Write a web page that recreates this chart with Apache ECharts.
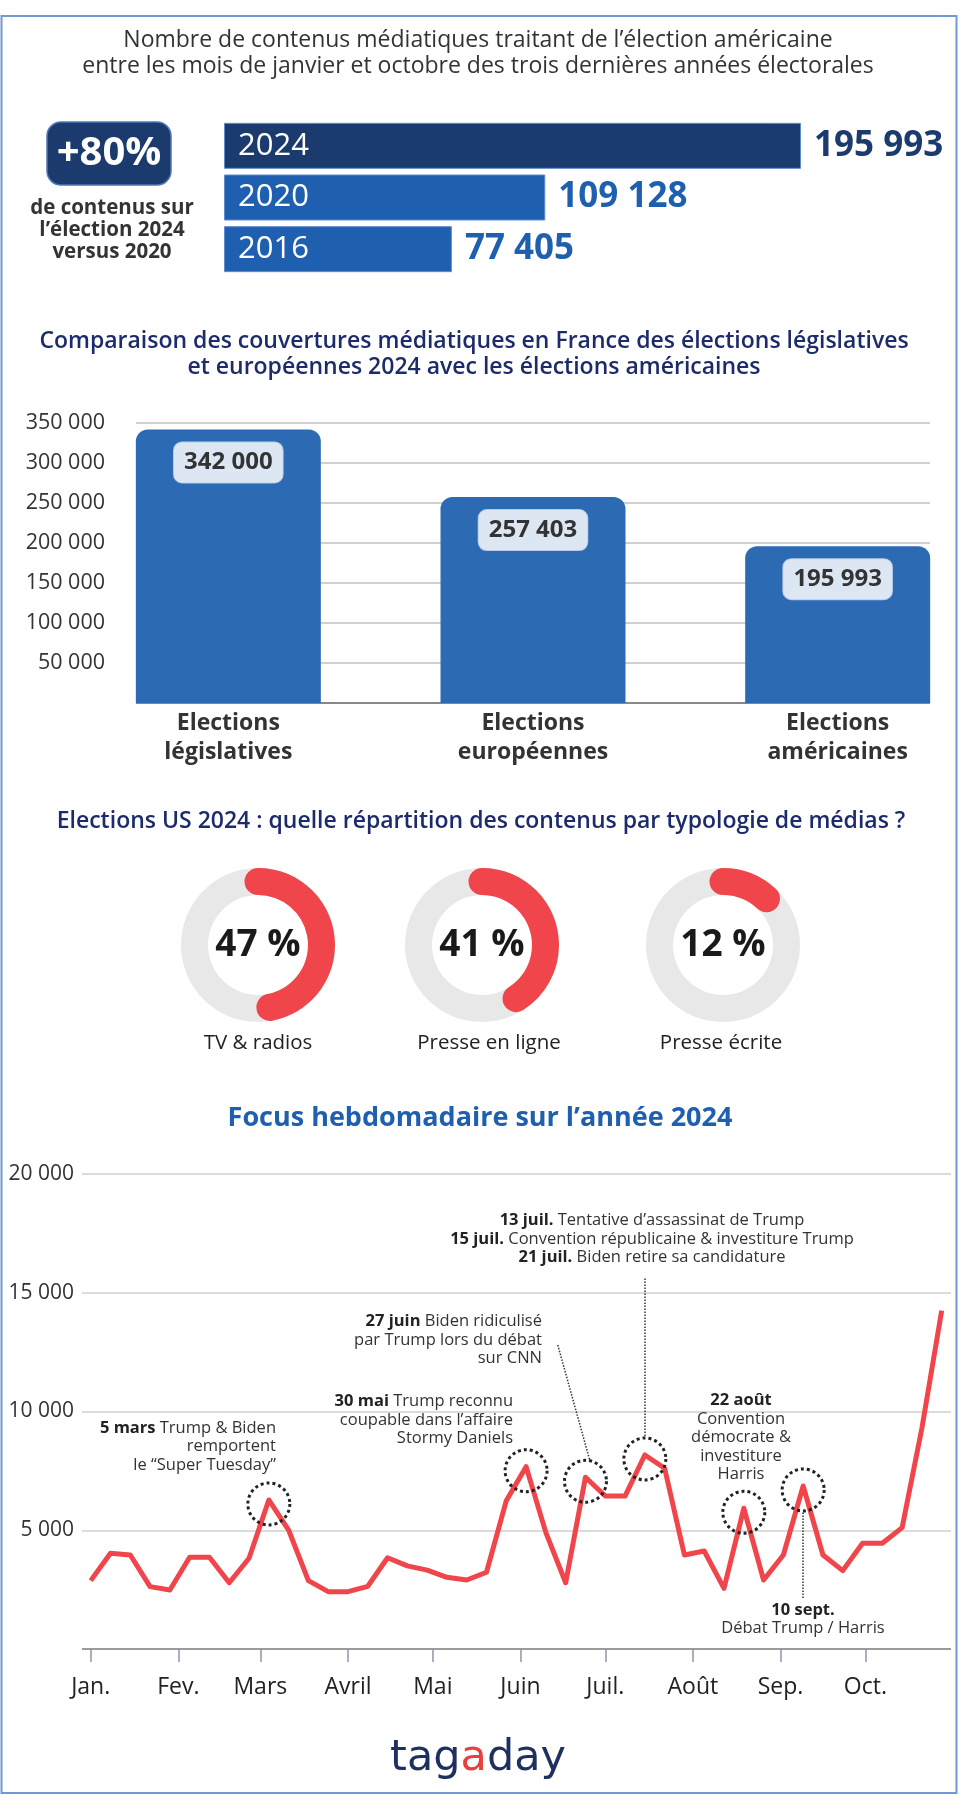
<!DOCTYPE html>
<html>
<head>
<meta charset="utf-8">
<script src="https://cdn.jsdelivr.net/npm/echarts@6/dist/echarts.min.js"></script>
<style>
html,body{margin:0;padding:0;background:#fff;}
#chart{width:960px;height:1810px;}
</style>
</head>
<body>
<div id="chart"></div>
<script>
// ---------- DATA ----------
const yearCats = ['2024', '2020', '2016'];
const yearTotals = [195993, 109128, 77405];

const electionCats = ['Elections\nlégislatives', 'Elections\neuropéennes', 'Elections\naméricaines'];
const electionTotals = [342000, 257403, 195993];

const mediaTypes = ['TV & radios', 'Presse en ligne', 'Presse écrite'];
const mediaShares = [47, 41, 12];

const monthLabels = ['Jan.', 'Fev.', 'Mars', 'Avril', 'Mai', 'Juin', 'Juil.', 'Août', 'Sep.', 'Oct.'];
const weeklyCounts = [
  2880, 4030, 3960, 2625, 2485, 3860, 3860, 2790, 3820, 6275,
  5010, 2880, 2415, 2415, 2640, 3840, 3500, 3320, 3020, 2905,
  3230, 6245, 7675, 4900, 2790, 7230, 6440, 6440, 8170, 7610,
  3960, 4125, 2555, 5925, 2905, 3960, 6865, 3960, 3300, 4450,
  4450, 5110, 9300, 14245
];
const highlightWeeks = [9, 22, 25, 28, 33, 36];

// ---------- HELPERS ----------
const FONT = '"Open Sans", "Noto Sans", sans-serif';
const fmt = v => String(v).replace(/\B(?=(\d{3})+(?!\d))/g, ' ');
const DAY = 86400000;
const monthStartWeeks = monthLabels.map((m, i) => (Date.UTC(2024, i, 1) - Date.UTC(2024, 0, 1)) / DAY / 7);
const weekSeries = weeklyCounts.map((v, i) => [i, v]);

const navy = '#1b3a6e', blue = '#1f5fb0', red = '#f0454b', titleNavy = '#1c2b6b';
const yearBarColors = [navy, blue, blue];
const yearLabelColors = [navy, blue, blue];

function txt(text, x, y, opt) {
  opt = opt || {};
  return {
    type: 'text', z: 100, silent: true,
    style: Object.assign({
      text: text, x: x, y: y,
      fontFamily: FONT, fontSize: 16, fill: '#333',
      textAlign: 'center', textVerticalAlign: 'middle',
      align: 'center', verticalAlign: 'middle'
    }, opt)
  };
}
const richB = { b: { fontWeight: 'bold', fontSize: 16.5, lineHeight: 18.5, fontFamily: FONT, fill: '#222', color: '#222' } };
function ann(text, x, y, align) {
  return txt(text, x, y, {
    textAlign: align, align: align, textVerticalAlign: 'top', verticalAlign: 'top',
    fontSize: 16.5, lineHeight: 18.5, fill: '#333', rich: richB
  });
}

const gauges = mediaShares.map((v, i) => ({
  type: 'gauge',
  center: [[258, 482, 723][i], 945],
  radius: 77,
  startAngle: 90, endAngle: -270, min: 0, max: 100,
  pointer: { show: false }, anchor: { show: false }, title: { show: false },
  progress: { show: true, roundCap: true, width: 27, itemStyle: { color: red } },
  axisLine: { lineStyle: { width: 27, color: [[1, '#e8e8e8']] } },
  splitLine: { show: false }, axisTick: { show: false }, axisLabel: { show: false },
  detail: {
    formatter: '{value} %', offsetCenter: [0, 0], fontSize: 37, fontWeight: 'bold',
    color: '#1a1a1a', fontFamily: FONT
  },
  data: [{ value: v, name: mediaTypes[i] }]
}));

const option = {
  animation: false,
  backgroundColor: '#fff',
  textStyle: { fontFamily: FONT },
  grid: [
    { left: 224, width: 577, top: 120, height: 155, outerBoundsMode: 'none', containLabel: false },
    { left: 136, right: 30, top: 423, bottom: 1107, outerBoundsMode: 'none', containLabel: false },
    { left: 76, width: 914, top: 423, bottom: 1107, outerBoundsMode: 'none', containLabel: false },
    { left: 82, right: 9, top: 1174, bottom: 161, outerBoundsMode: 'none', containLabel: false }
  ],
  xAxis: [
    { gridIndex: 0, type: 'value', min: 0, max: 'dataMax', show: false },
    { gridIndex: 1, type: 'category', data: electionCats, show: false },
    {
      gridIndex: 2, type: 'category', data: electionCats,
      axisLine: { show: false }, axisTick: { show: false },
      axisLabel: { fontSize: 23, fontWeight: 'bold', color: '#333', lineHeight: 29, margin: 6, fontFamily: FONT }
    },
    {
      gridIndex: 3, type: 'value', min: -0.44, max: 43.47, offset: 5,
      splitLine: { show: false },
      axisLine: { show: false },
      axisTick: { show: true, length: 13, customValues: monthStartWeeks, lineStyle: { color: '#8a96a6', width: 1.5 } },
      axisLabel: {
        customValues: monthStartWeeks, fontSize: 23, color: '#222', margin: 22, fontFamily: FONT,
        formatter: v => { const k = monthStartWeeks.findIndex(w => Math.abs(w - v) < 1e-6); return k >= 0 ? monthLabels[k] : ''; }
      }
    }
  ],
  yAxis: [
    { gridIndex: 0, type: 'category', data: yearCats, inverse: true, show: false },
    {
      gridIndex: 1, type: 'value', min: 0, max: 350000, interval: 50000,
      axisLine: { show: false }, axisTick: { show: false },
      axisLabel: { fontSize: 21.5, color: '#333', margin: 31, fontFamily: FONT, formatter: v => v === 0 ? '' : fmt(v) },
      splitLine: { lineStyle: { color: ['#888', '#d0d0d0', '#d0d0d0', '#d0d0d0', '#d0d0d0', '#d0d0d0', '#d0d0d0', '#d0d0d0'], width: 2 } }
    },
    { gridIndex: 2, type: 'value', min: 0, max: 350000, interval: 50000, show: false },
    {
      gridIndex: 3, type: 'value', min: 0, max: 20000, interval: 5000,
      axisLine: { show: false }, axisTick: { show: false },
      axisLabel: { fontSize: 21, color: '#333', margin: 8, fontFamily: FONT, formatter: v => v === 0 ? '' : fmt(v) },
      splitLine: { lineStyle: { color: ['#7a7a7a', '#cfcfcf', '#cfcfcf', '#cfcfcf', '#cfcfcf'], width: 1.5 } }
    }
  ],
  series: [
    {
      type: 'bar', xAxisIndex: 0, yAxisIndex: 0, barWidth: 46, z: 3,
      data: yearTotals.map((v, i) => ({ value: v, itemStyle: { color: yearBarColors[i], borderColor: '#5f8ccc', borderWidth: 1 } })),
      label: { show: true, position: 'insideLeft', distance: 14, formatter: '{b}', color: '#fff', fontSize: 31, fontFamily: FONT }
    },
    {
      type: 'bar', xAxisIndex: 0, yAxisIndex: 0, barWidth: 46, barGap: '-100%', z: 2,
      itemStyle: { color: 'transparent' },
      data: yearTotals.map((v, i) => ({ value: v, label: { color: yearLabelColors[i] } })),
      label: { show: true, position: 'right', distance: 13, fontSize: 35, fontWeight: 'bold', fontFamily: FONT, formatter: p => fmt(p.value) }
    },
    {
      type: 'bar', xAxisIndex: 2, yAxisIndex: 2, barWidth: 185, z: 3,
      itemStyle: { color: '#2d6ab4', borderRadius: [12, 12, 0, 0] },
      data: electionTotals,
      label: {
        show: true, position: 'insideTop', distance: 13, formatter: p => fmt(p.value),
        fontSize: 24, fontWeight: 'bold', color: '#333', fontFamily: FONT, lineHeight: 26,
        backgroundColor: '#dde7f3', borderColor: '#b9cbe3', borderWidth: 1, borderRadius: 8, padding: [7, 10]
      }
    },
    {
      type: 'line', xAxisIndex: 3, yAxisIndex: 3, data: weekSeries, showSymbol: false, symbol: 'none',
      lineStyle: { color: red, width: 5, join: 'round' }, z: 3,
      markPoint: {
        silent: true, symbol: 'circle', symbolSize: 42, symbolOffset: [0, 4],
        itemStyle: { color: 'rgba(0,0,0,0)', borderColor: '#222', borderWidth: 3, borderType: 'dotted' },
        label: { show: false },
        data: highlightWeeks.map(w => ({ coord: [w, weeklyCounts[w]] }))
      },
      markLine: {
        silent: true, symbol: ['none', 'none'], label: { show: false },
        lineStyle: { type: 'dotted', color: '#333', width: 1.5 },
        data: [
          [{ coord: [23.6, 12800], lineStyle: { curveness: 0.2 } }, { coord: [25.25, 7850] }],
          [{ coord: [28, 15600] }, { coord: [28, 8950] }],
          [{ coord: [36, 2150] }, { coord: [36, 5800] }]
        ]
      }
    }
  ].concat(gauges),
  graphic: [
    { type: 'rect', z: 0, silent: true, shape: { x: 1.5, y: 16, width: 955, height: 1777 }, style: { fill: 'none', stroke: '#6f9ad4', lineWidth: 2 } },
    txt('Nombre de contenus médiatiques traitant de l’élection américaine\nentre les mois de janvier et octobre des trois dernières années électorales', 478, 53, { fontSize: 23, lineHeight: 26, fill: '#333' }),
    { type: 'rect', z: 90, silent: true, shape: { x: 47, y: 122, width: 124, height: 63, r: 14 }, style: { fill: navy, stroke: '#5078b4', lineWidth: 1.5 } },
    txt('+80%', 109, 154, { fontSize: 40, fontWeight: 'bold', fill: '#fff' }),
    txt('de contenus sur\nl’élection 2024\nversus 2020', 112, 230, { fontSize: 20.5, fontWeight: 'bold', lineHeight: 22, fill: '#333' }),
    txt('Comparaison des couvertures médiatiques en France des élections législatives\net européennes 2024 avec les élections américaines', 474, 354, { fontSize: 23, fontWeight: 600, lineHeight: 26, fill: titleNavy }),
    txt('Elections US 2024 : quelle répartition des contenus par typologie de médias ?', 481, 821, { fontSize: 23, fontWeight: 600, fill: titleNavy }),
    txt(mediaTypes[0], 258, 1043, { fontSize: 20.5, fill: '#222' }),
    txt(mediaTypes[1], 489, 1043, { fontSize: 20.5, fill: '#222' }),
    txt(mediaTypes[2], 721, 1043, { fontSize: 20.5, fill: '#222' }),
    txt('Focus hebdomadaire sur l’année 2024', 480, 1118, { fontSize: 27, fontWeight: 'bold', fill: blue }),
    ann('{b|5 mars} Trump & Biden\nremportent\nle “Super Tuesday”', 276, 1419, 'right'),
    ann('{b|30 mai} Trump reconnu\ncoupable dans l’affaire\nStormy Daniels', 513, 1392.5, 'right'),
    ann('{b|27 juin} Biden ridiculisé\npar Trump lors du débat\nsur CNN', 542, 1312.5, 'right'),
    ann('{b|13 juil.} Tentative d’assassinat de Trump\n{b|15 juil.} Convention républicaine & investiture Trump\n{b|21 juil.} Biden retire sa candidature', 652, 1211.5, 'center'),
    ann('{b|22 août}\nConvention\ndémocrate &\ninvestiture\nHarris', 741, 1391.5, 'center'),
    ann('{b|10 sept.}\nDébat Trump / Harris', 803, 1601, 'center'),
    txt('{n|tag}{r|a}{n|day}', 478, 1759, {
      fontSize: 43, rich: {
        n: { fontSize: 43, fontFamily: '"DejaVu Sans", Lato, sans-serif', fill: '#1f2f5f', color: '#1f2f5f' },
        r: { fontSize: 43, fontFamily: '"DejaVu Sans", Lato, sans-serif', fill: '#e8403f', color: '#e8403f' }
      }
    })
  ]
};

const chart = echarts.init(document.getElementById('chart'), null, { renderer: 'canvas' });
chart.setOption(option);
</script>
</body>
</html>
